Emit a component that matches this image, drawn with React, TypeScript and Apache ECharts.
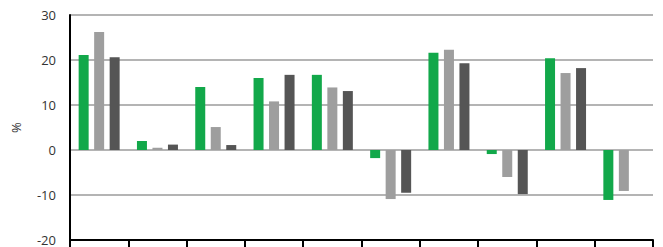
import React, { useEffect, useRef } from "react";
import * as echarts from "echarts";

const categories = ["1", "2", "3", "4", "5", "6", "7", "8", "9", "10"];
const seriesA = [21.1, 2, 14, 16, 16.7, -1.8, 21.6, -0.9, 20.4, -11.1];
const seriesB = [26.2, 0.5, 5.1, 10.8, 13.9, -10.9, 22.3, -6, 17.1, -9.1];
const seriesC = [20.6, 1.2, 1.1, 16.7, 13.1, -9.5, 19.3, -9.8, 18.2, null];
const yTicks = { min: -20, max: 30, interval: 10 };

export default function App() {
  const ref = useRef<HTMLDivElement>(null);
  useEffect(() => {
    if (!ref.current) return;
    const chart = echarts.init(ref.current, null, { renderer: "svg" });
    const bar = (name: string, data: (number | null)[], color: string) => ({
      name,
      type: "bar",
      data,
      barWidth: 10,
      barGap: "55%",
      itemStyle: { color },
    });
    chart.setOption({
      animation: false,
      grid: { left: 70, top: 15, right: 10, bottom: 7, containLabel: false },
      xAxis: {
        type: "category",
        data: categories,
        position: "bottom",
        axisLine: { show: true, onZero: false, lineStyle: { color: "#000", width: 2 } },
        axisTick: { show: true, alignWithLabel: false, length: 8, lineStyle: { color: "#000", width: 2 } },
        axisLabel: { show: false },
        splitLine: { show: false },
      },
      yAxis: {
        type: "value",
        min: yTicks.min,
        max: yTicks.max,
        interval: yTicks.interval,
        name: "%",
        nameLocation: "middle",
        nameGap: 48,
        nameRotate: 90,
        nameTextStyle: { color: "#333", fontSize: 13, fontFamily: "Open Sans" },
        axisLine: { show: true, lineStyle: { color: "#000", width: 2 } },
        axisTick: { show: false },
        axisLabel: { color: "#333", fontSize: 13, margin: 14, fontFamily: "Open Sans" },
        splitLine: { show: true, lineStyle: { color: "#b4b4b4", width: 2 } },
      },
      series: [
        bar("A", seriesA, "#12a84a"),
        bar("B", seriesB, "#9e9e9e"),
        bar("C", seriesC, "#555555"),
      ],
    });
    return () => chart.dispose();
  }, []);
  return <div ref={ref} style={{ width: 663, height: 247, position: "absolute", left: 0, top: 0 }} />;
}
